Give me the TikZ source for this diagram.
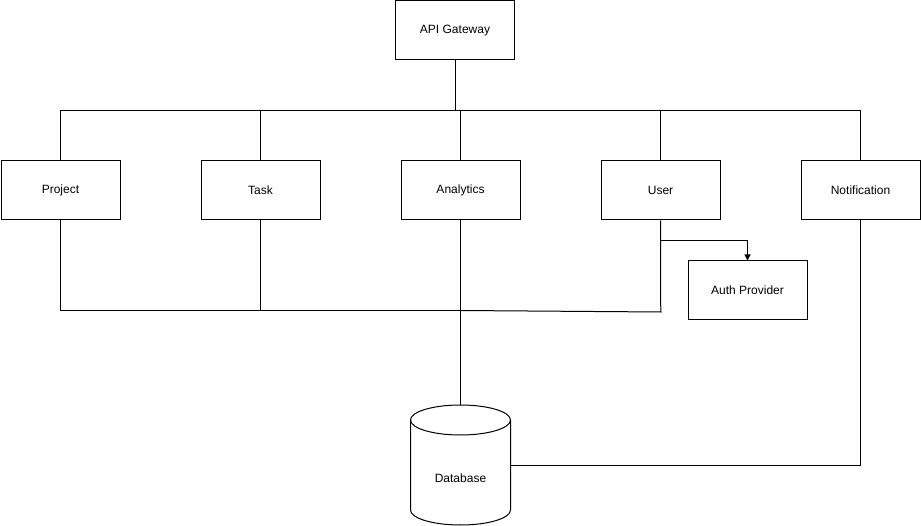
\documentclass[tikz,border=0pt]{standalone}
\usepackage{fontspec}
\setmainfont{Liberation Sans}
\usetikzlibrary{arrows.meta}
\begin{document}
\begin{tikzpicture}[x=1pt,y=-1pt,
  box/.style={draw, line width=1pt, minimum width=119pt, minimum height=59pt, inner sep=0pt, font=\fontsize{12}{14}\selectfont},
  wire/.style={line width=1pt},
  lbl/.style={font=\fontsize{12}{14}\selectfont, inner sep=0pt}]
\useasboundingbox (0,0) rectangle (921,526);
\node[box] (api) at (455,30.5) {API Gateway};
\node[box] (project) at (60.5,190.5) {Project};
\node[box] (task) at (260.5,190.5) {Task};
\node[box] (analytics) at (460.5,190.5) {Analytics};
\node[box] (user) at (660.5,190.5) {User};
\node[box] (notif) at (860.5,190.5) {Notification};
\node[box] (auth) at (747.5,290.5) {Auth Provider};
% database cylinder
\node[minimum width=100pt, minimum height=120pt, inner sep=0pt] (db) at (460.5,465) {};
\draw[line width=1pt] (460.5,420) ellipse[x radius=50, y radius=15];
\draw[line width=1pt] (410.5,420) -- (410.5,510) arc[start angle=180, end angle=0, x radius=50, y radius=15] -- (510.5,420);
\node[lbl] (dblabel) at (460.5,478) {Database};
% top bus
\coordinate (apiJ) at (455,110.5);
\coordinate (busL) at (60.5,110.5);
\coordinate (busR) at (860.5,110.5);
\draw[wire] (api.south) -- (apiJ);
\draw[wire] (busL) -- (busR);
\draw[wire] (busL) -- (project.north);
\draw[wire] (task.north |- busL) -- (task.north);
\draw[wire] (analytics.north |- busL) -- (analytics.north);
\draw[wire] (user.north |- busL) -- (user.north);
\draw[wire] (busR) -- (notif.north);
% bottom bus
\coordinate (pJ) at (60.5,310.5);
\coordinate (aJ) at (460.5,310.5);
\coordinate (uJ) at (661,312);
\draw[wire] (project.south) -- (pJ) -- (aJ);
\draw[wire] (task.south) -- (task.south |- pJ);
\draw[wire] (analytics.south) -- (db.north);
\draw[wire] (user.south) -- (660.5,300) -- (uJ) -- (aJ);
% user to auth
\coordinate (uA) at (660.5,240.5);
\draw[wire,-{Triangle[length=6pt,width=6pt]}] (uA) -| (auth.north);
% notification to db
\draw[wire] (notif.south) |- (db.east);
\end{tikzpicture}
\end{document}
